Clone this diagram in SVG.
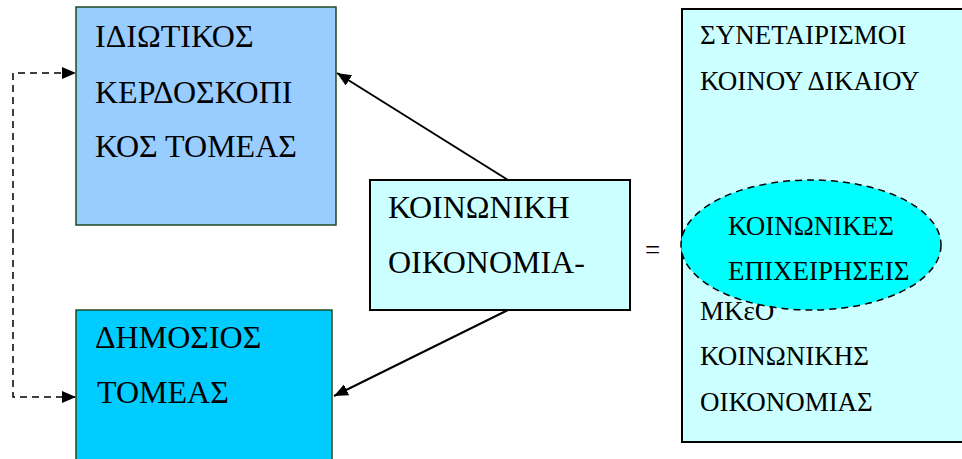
<svg xmlns="http://www.w3.org/2000/svg" width="962" height="459" viewBox="0 0 962 459">
<defs>
<marker id="ahs" markerWidth="14" markerHeight="12" refX="14" refY="6" orient="auto" markerUnits="userSpaceOnUse" viewBox="0 0 14 12">
<path d="M0,0 L14,6 L0,12 z" fill="#000"/>
</marker>
</defs>
<style>
text{font-family:"Liberation Serif","Times New Roman",serif;fill:#000}
.big{font-size:32px}
.sm{font-size:27px}
.ln{stroke:#000;stroke-width:2;fill:none}
.dash{stroke:#000;stroke-width:1.5;fill:none;stroke-dasharray:7,5}
</style>
<rect width="962" height="459" fill="#fff"/>
<g id="connectors">
<path class="dash" d="M13,236 V73 H76" marker-end="url(#ahs)"/>
<path class="dash" d="M13,236 V397 H76" marker-end="url(#ahs)"/>
<line class="ln" x1="508" y1="180" x2="337" y2="73" marker-end="url(#ahs)"/>
<line class="ln" x1="508" y1="310" x2="334" y2="396" marker-end="url(#ahs)"/>
</g>
<g id="private">
<rect x="76" y="7" width="260" height="218" fill="#99ccff" stroke="#1f4a1f" stroke-width="1.5"/>
<text class="big" x="95" y="47">ΙΔΙΩΤΙΚΟΣ</text>
<text class="big" x="95" y="103">ΚΕΡΔΟΣΚΟΠΙ</text>
<text class="big" x="95" y="157">ΚΟΣ ΤΟΜΕΑΣ</text>
</g>
<g id="public">
<rect x="76" y="310" width="256" height="160" fill="#00ccff" stroke="#1f4a1f" stroke-width="1.5"/>
<text class="big" x="95" y="348">ΔΗΜΟΣΙΟΣ</text>
<text class="big" x="97" y="403">ΤΟΜΕΑΣ</text>
</g>
<g id="social">
<rect x="370" y="180" width="260" height="130" fill="#ccffff" stroke="#000" stroke-width="2"/>
<text class="big" x="388" y="218">ΚΟΙΝΩΝΙΚΗ</text>
<text class="big" x="388" y="273">ΟΙΚΟΝΟΜΙΑ-</text>
</g>
<g id="equals">
<text class="sm" x="645" y="259">=</text>
</g>
<g id="right">
<rect x="682" y="9" width="300" height="433" fill="#ccffff" stroke="#000" stroke-width="2"/>
<text class="sm" x="700" y="44">ΣΥΝΕΤΑΙΡΙΣΜΟΙ</text>
<text class="sm" x="700" y="90">ΚΟΙΝΟΥ ΔΙΚΑΙΟΥ</text>
<text class="sm" x="700" y="320">ΜΚεΟ</text>
<text class="sm" x="700" y="365">ΚΟΙΝΩΝΙΚΗΣ</text>
<text class="sm" x="700" y="411">ΟΙΚΟΝΟΜΙΑΣ</text>
</g>
<g id="enterprises">
<ellipse cx="811" cy="245" rx="130" ry="65" fill="#00ffff" stroke="#000" stroke-width="1.5" stroke-dasharray="7,5"/>
<text class="sm" x="728" y="235">ΚΟΙΝΩΝΙΚΕΣ</text>
<text class="sm" x="728" y="280">ΕΠΙΧΕΙΡΗΣΕΙΣ</text>
</g>
</svg>
